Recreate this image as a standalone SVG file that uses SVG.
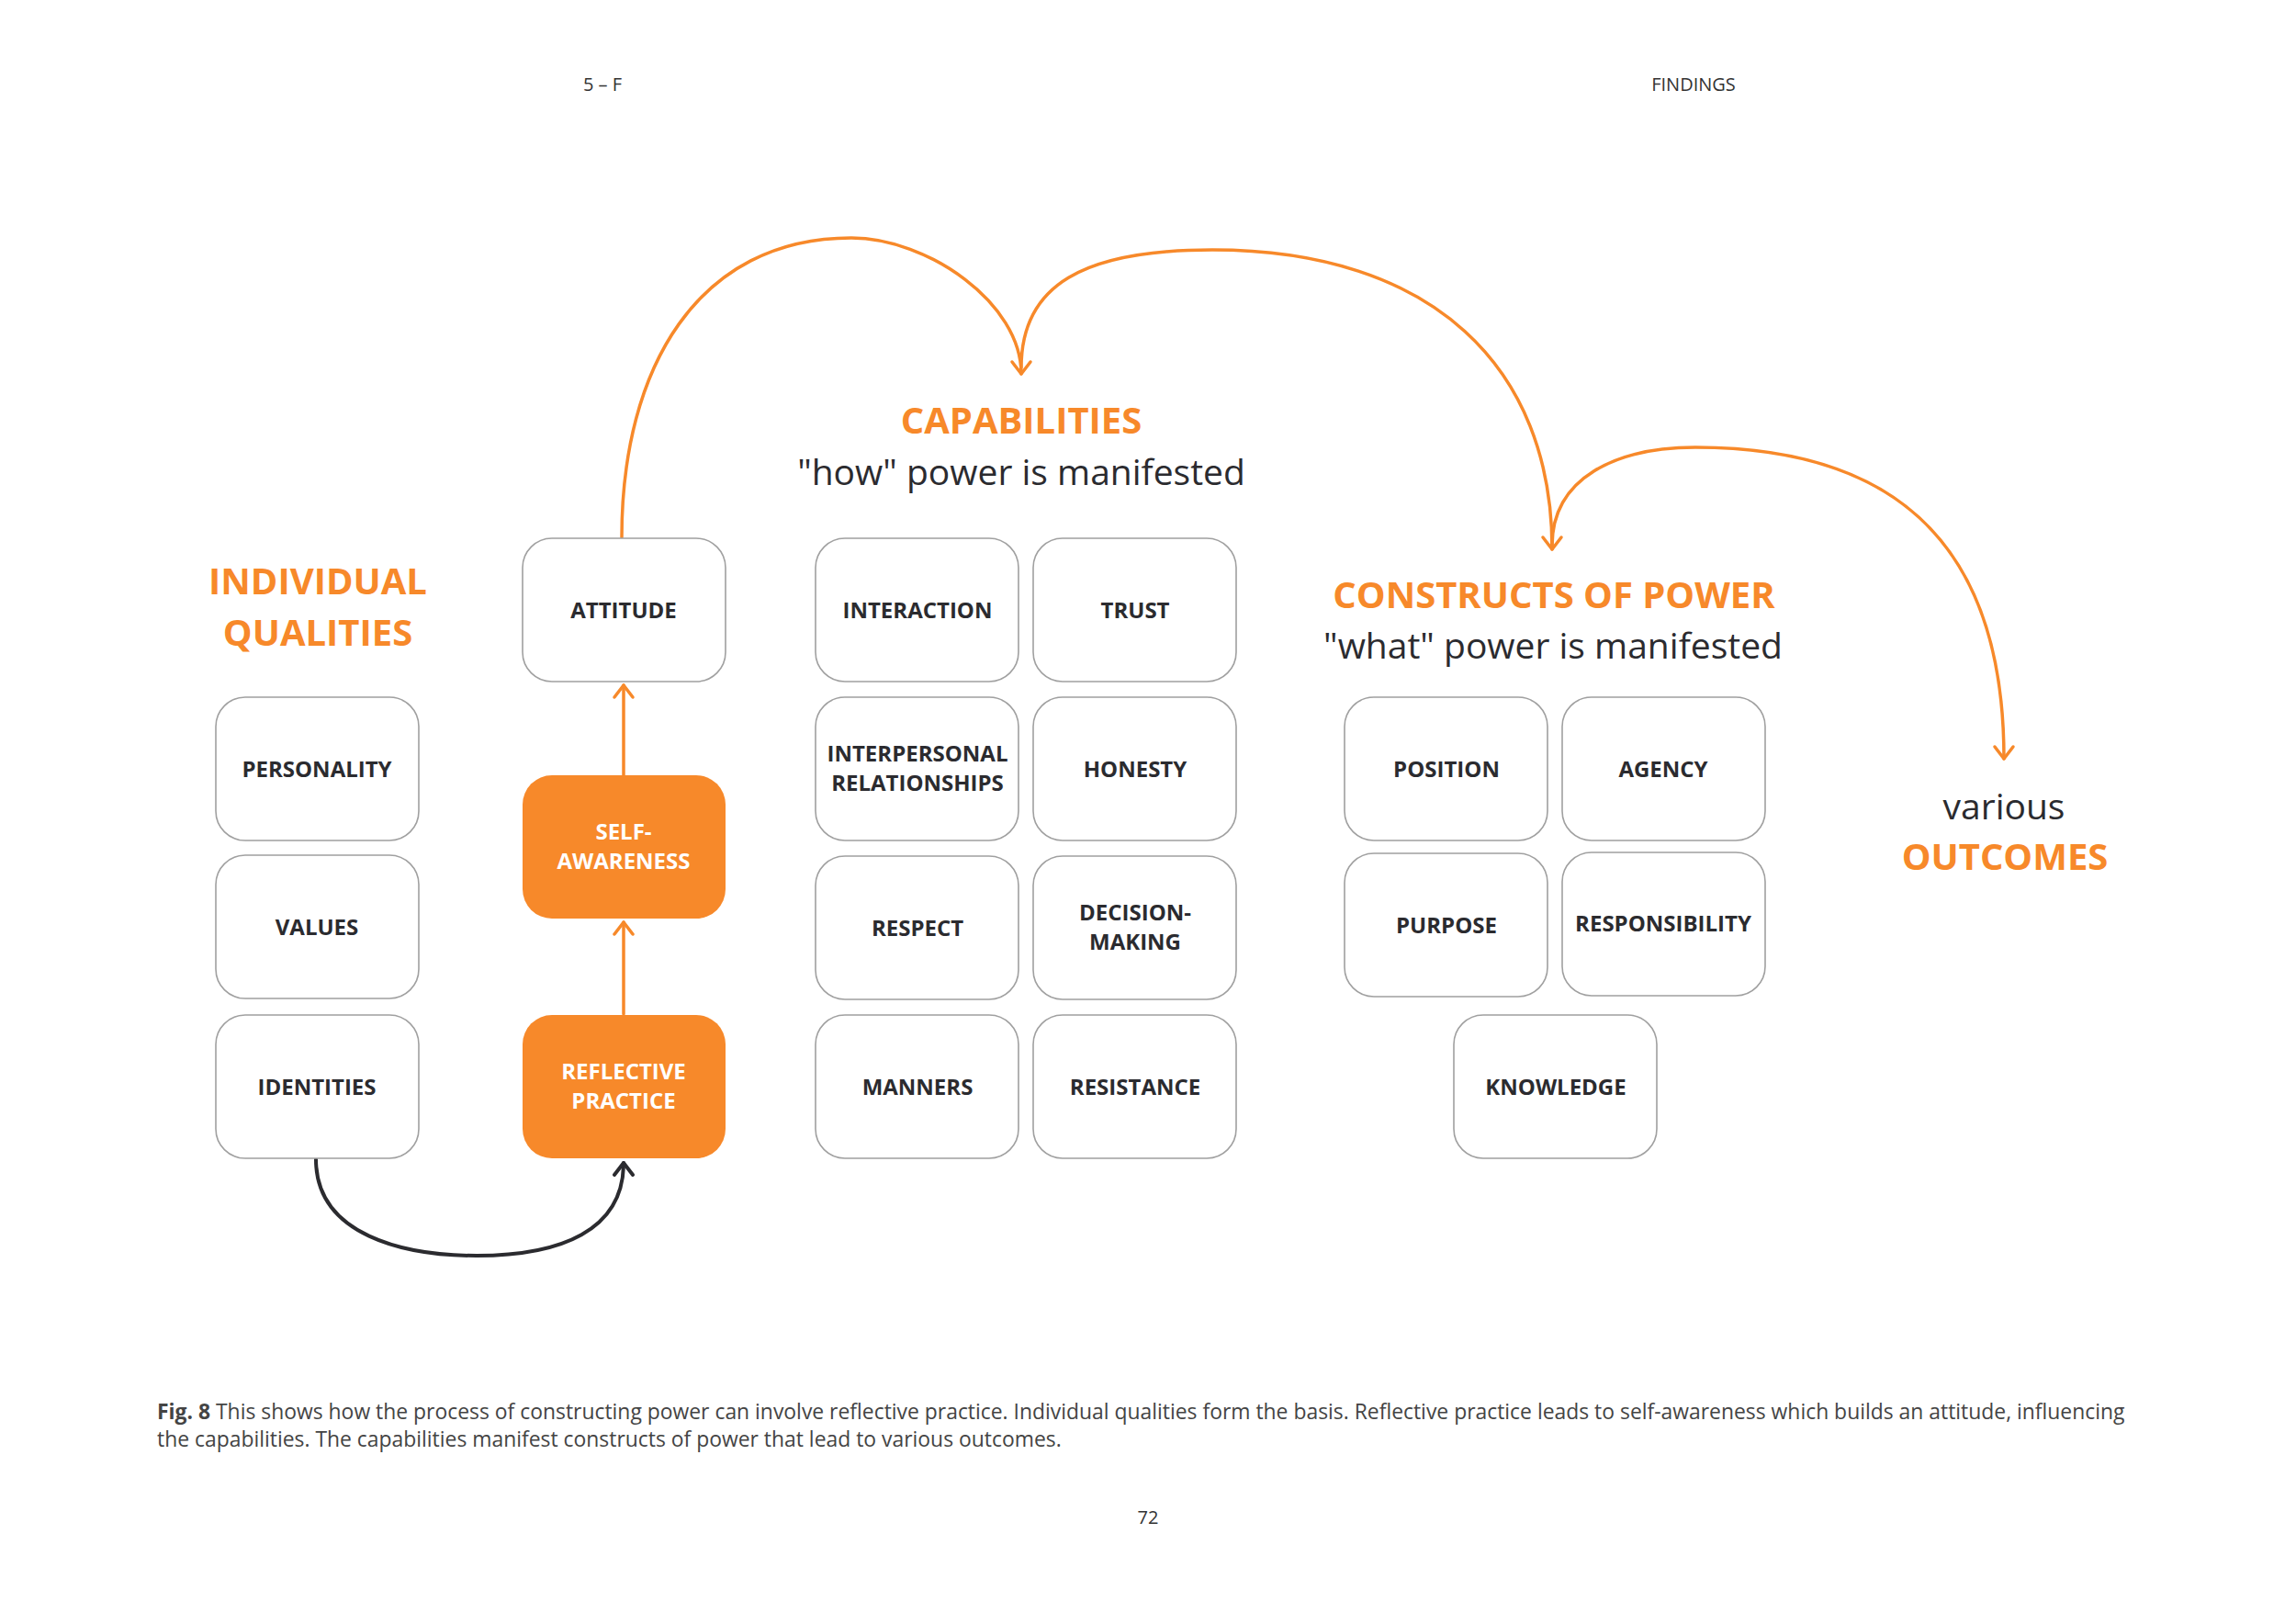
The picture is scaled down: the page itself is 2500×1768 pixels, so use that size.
<svg xmlns="http://www.w3.org/2000/svg" width="2500" height="1768" viewBox="0 0 2500 1768">
<defs>
<style>
.box{fill:#ffffff;stroke:#a0a0a0;stroke-width:1.6}
.obox{fill:#f7892a;stroke:none}
.lbl{font-family:"Open Sans","Liberation Sans",sans-serif;font-weight:700;font-size:24px;fill:#2b2b2f;text-anchor:middle}
.wlbl{font-family:"Open Sans","Liberation Sans",sans-serif;font-weight:700;font-size:24px;fill:#ffffff;text-anchor:middle}
.ttl{font-family:"Open Sans","Liberation Sans",sans-serif;font-weight:700;font-size:40px;fill:#f7892a;text-anchor:middle}
.sub{font-family:"Open Sans","Liberation Sans",sans-serif;font-weight:400;font-size:39px;fill:#2b2b2f;text-anchor:middle}
.hdr{font-family:"Open Sans","Liberation Sans",sans-serif;font-weight:400;font-size:20px;fill:#333333;text-anchor:middle}
.cap{font-family:"Open Sans","Liberation Sans",sans-serif;font-weight:400;font-size:22.9px;fill:#444444}
.oc{fill:none;stroke:#f7892a;stroke-width:3.5;stroke-linecap:round}
.dc{fill:none;stroke:#2b2b2f;stroke-width:4;stroke-linecap:round}
</style>
<marker id="ao" markerUnits="userSpaceOnUse" markerWidth="40" markerHeight="40" viewBox="-20 -20 40 40" refX="0" refY="0" orient="auto" overflow="visible">
<path d="M-13,-10 L0,0 L-13,10" fill="none" stroke="#f7892a" stroke-width="3.5" stroke-linecap="round" stroke-linejoin="round"/>
</marker>
<marker id="ad" markerUnits="userSpaceOnUse" markerWidth="40" markerHeight="40" viewBox="-20 -20 40 40" refX="0" refY="0" orient="auto" overflow="visible">
<path d="M-13,-10 L0,0 L-13,10" fill="none" stroke="#2b2b2f" stroke-width="4" stroke-linecap="round" stroke-linejoin="round"/>
</marker>
</defs>
<rect x="0" y="0" width="2500" height="1768" fill="#ffffff"/>

<g id="header">
<text class="hdr" x="656" y="99">5 – F</text>
<text class="hdr" x="1844" y="99">FINDINGS</text>
</g>

<g id="titles">
<text class="ttl" x="346" y="647">INDIVIDUAL</text>
<text class="ttl" x="346" y="703">QUALITIES</text>
<text class="ttl" x="1112" y="472">CAPABILITIES</text>
<text class="sub" x="1112" y="528">"how" power is manifested</text>
<text class="ttl" x="1692" y="662">CONSTRUCTS OF POWER</text>
<text class="sub" x="1691" y="717">"what" power is manifested</text>
<text class="sub" x="2182" y="892">various</text>
<text class="ttl" x="2183" y="947">OUTCOMES</text>
</g>

<g id="connectors">
<path class="oc" d="M679,844 L679,746" marker-end="url(#ao)"/>
<path class="oc" d="M679,1104 L679,1004" marker-end="url(#ao)"/>
<path class="oc" d="M677,585 C677,400 760,259 927,259 C1010,259 1112,330 1112,407" marker-end="url(#ao)"/>
<path class="oc" d="M1112,400 C1112,310 1180,272 1320,272 C1560,272 1690,400 1690,598" marker-end="url(#ao)"/>
<path class="oc" d="M1690,594 C1690,520 1760,487 1846,487 C2090,487 2182,620 2182,826" marker-end="url(#ao)"/>
<path class="dc" d="M344,1262 C344,1345 440,1367 519,1367 C610,1367 679,1340 679,1266" marker-end="url(#ad)"/>
</g>

<g id="node-personality"><rect class="box" x="235" y="759" width="221" height="156" rx="32"/><text class="lbl" x="345" y="846">PERSONALITY</text></g>
<g id="node-values"><rect class="box" x="235" y="931" width="221" height="156" rx="32"/><text class="lbl" x="345" y="1018">VALUES</text></g>
<g id="node-identities"><rect class="box" x="235" y="1105" width="221" height="156" rx="32"/><text class="lbl" x="345" y="1192">IDENTITIES</text></g>

<g id="node-attitude"><rect class="box" x="569" y="586" width="221" height="156" rx="32"/><text class="lbl" x="679" y="673">ATTITUDE</text></g>
<g id="node-self-awareness"><rect class="obox" x="569" y="844" width="221" height="156" rx="32"/><text class="wlbl" x="679" y="914">SELF-</text><text class="wlbl" x="679" y="946">AWARENESS</text></g>
<g id="node-reflective-practice"><rect class="obox" x="569" y="1105" width="221" height="156" rx="32"/><text class="wlbl" x="679" y="1175">REFLECTIVE</text><text class="wlbl" x="679" y="1207">PRACTICE</text></g>

<g id="node-interaction"><rect class="box" x="888" y="586" width="221" height="156" rx="32"/><text class="lbl" x="999" y="673">INTERACTION</text></g>
<g id="node-trust"><rect class="box" x="1125" y="586" width="221" height="156" rx="32"/><text class="lbl" x="1236" y="673">TRUST</text></g>
<g id="node-interpersonal"><rect class="box" x="888" y="759" width="221" height="156" rx="32"/><text class="lbl" x="999" y="829">INTERPERSONAL</text><text class="lbl" x="999" y="861">RELATIONSHIPS</text></g>
<g id="node-honesty"><rect class="box" x="1125" y="759" width="221" height="156" rx="32"/><text class="lbl" x="1236" y="846">HONESTY</text></g>
<g id="node-respect"><rect class="box" x="888" y="932" width="221" height="156" rx="32"/><text class="lbl" x="999" y="1019">RESPECT</text></g>
<g id="node-decision-making"><rect class="box" x="1125" y="932" width="221" height="156" rx="32"/><text class="lbl" x="1236" y="1002">DECISION-</text><text class="lbl" x="1236" y="1034">MAKING</text></g>
<g id="node-manners"><rect class="box" x="888" y="1105" width="221" height="156" rx="32"/><text class="lbl" x="999" y="1192">MANNERS</text></g>
<g id="node-resistance"><rect class="box" x="1125" y="1105" width="221" height="156" rx="32"/><text class="lbl" x="1236" y="1192">RESISTANCE</text></g>

<g id="node-position"><rect class="box" x="1464" y="759" width="221" height="156" rx="32"/><text class="lbl" x="1575" y="846">POSITION</text></g>
<g id="node-agency"><rect class="box" x="1701" y="759" width="221" height="156" rx="32"/><text class="lbl" x="1811" y="846">AGENCY</text></g>
<g id="node-purpose"><rect class="box" x="1464" y="929" width="221" height="156" rx="32"/><text class="lbl" x="1575" y="1016">PURPOSE</text></g>
<g id="node-responsibility"><rect class="box" x="1701" y="928" width="221" height="156" rx="32"/><text class="lbl" x="1811" y="1014">RESPONSIBILITY</text></g>
<g id="node-knowledge"><rect class="box" x="1583" y="1105" width="221" height="156" rx="32"/><text class="lbl" x="1694" y="1192">KNOWLEDGE</text></g>

<g id="caption">
<text class="cap" x="171" y="1545"><tspan font-weight="700">Fig. 8</tspan> This shows how the process of constructing power can involve reflective practice. Individual qualities form the basis. Reflective practice leads to self-awareness which builds an attitude, influencing</text>
<text class="cap" x="171" y="1575">the capabilities. The capabilities manifest constructs of power that lead to various outcomes.</text>
<text class="hdr" x="1250" y="1659">72</text>
</g>
</svg>
